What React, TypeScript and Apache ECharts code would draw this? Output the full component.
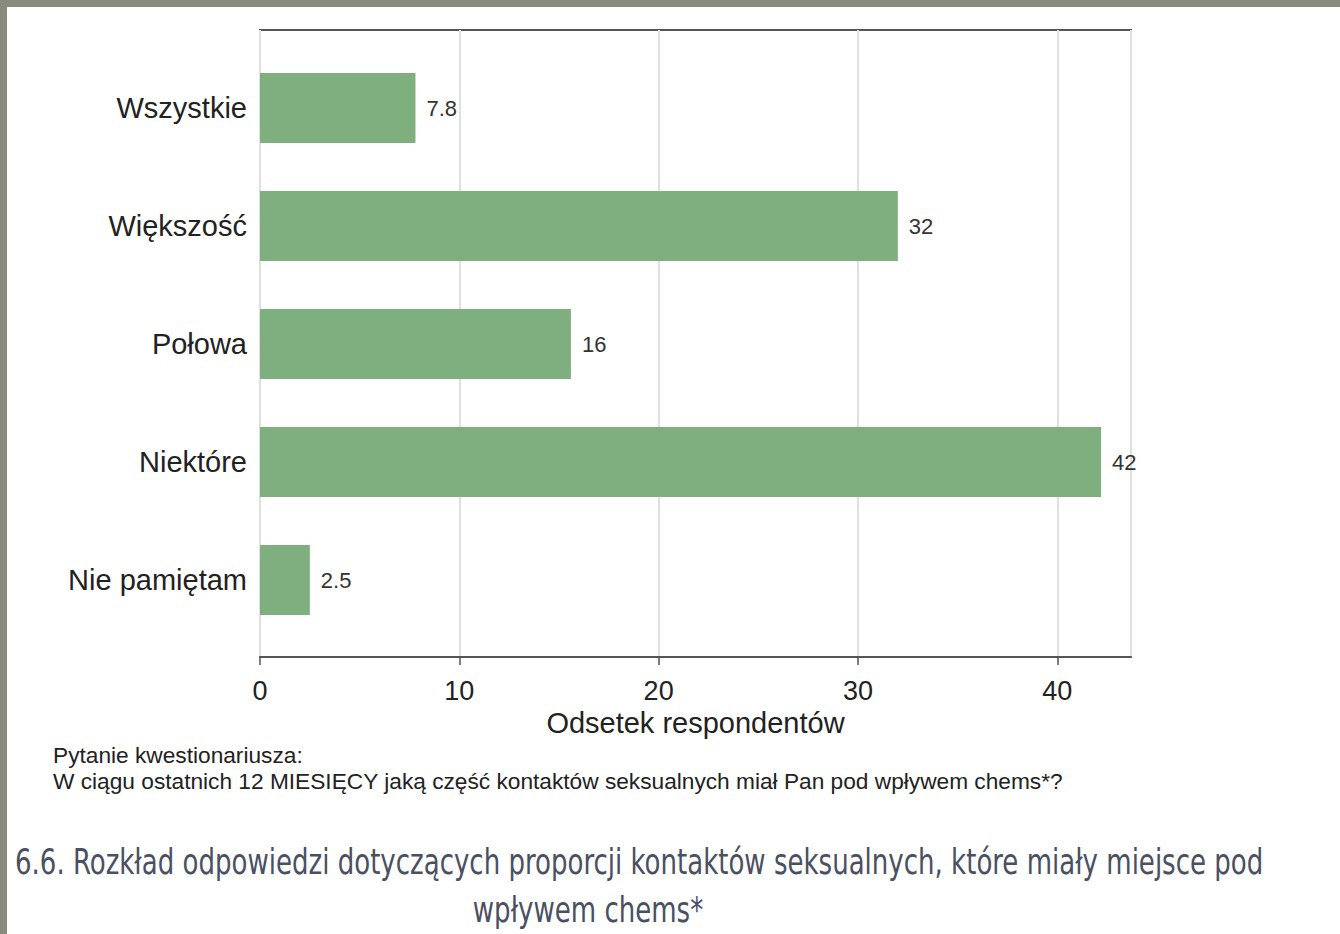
import React, { useEffect, useRef } from "react";
import * as echarts from "echarts";

const categories = ["Wszystkie", "Większość", "Połowa", "Niektóre", "Nie pamiętam"];
const values = [7.8, 32.0, 15.6, 42.2, 2.5];
const xTicks = [0, 10, 20, 30, 40];
const axisTitle = "Odsetek respondentów";
const noteLines = [
  "Pytanie kwestionariusza:",
  "W ciągu ostatnich 12 MIESIĘCY jaką część kontaktów seksualnych miał Pan pod wpływem chems*?",
];
const captionLines = [
  "6.6. Rozkład odpowiedzi dotyczących proporcji kontaktów seksualnych, które miały miejsce pod",
  "wpływem chems*",
];

const FONT = "'Liberation Sans', Arial, sans-serif";
const CAPTION_FONT = "'Liberation Sans Narrow', 'DejaVu Sans Condensed', 'Roboto', sans-serif";

export default function App() {
  const ref = useRef<HTMLDivElement>(null);
  useEffect(() => {
    if (!ref.current) return;
    const chart = echarts.init(ref.current, undefined, { renderer: "svg" });
    const xMax = 43.7;
    chart.setOption({
      animation: false,
      backgroundColor: "#ffffff",
      grid: [
        { left: 260, top: 30, width: 871, height: 627, show: true, borderColor: "#555", borderWidth: 2, backgroundColor: "transparent" },
        { left: 260, top: 49, width: 871, height: 590 },
      ],
      xAxis: [
        {
          type: "value",
          gridIndex: 0,
          min: 0,
          max: xMax,
          interval: 10,
          axisLine: { show: true, lineStyle: { color: "#555", width: 2 } },
          axisTick: { show: true, length: 8, lineStyle: { color: "#555", width: 1.5 } },
          axisLabel: {
            fontSize: 27,
            color: "#222",
            fontFamily: FONT,
            margin: 20,
            showMaxLabel: false,
            formatter: (v: number) => (xTicks.includes(v) ? String(v) : ""),
          },
          splitLine: { show: true, lineStyle: { color: "#e0e0e0", width: 2 } },
          name: axisTitle,
          nameLocation: "middle",
          nameGap: 48,
          nameTextStyle: { fontSize: 29, color: "#222", fontFamily: FONT },
        },
        { type: "value", gridIndex: 1, min: 0, max: xMax, show: false },
      ],
      yAxis: [
        { type: "value", gridIndex: 0, show: false },
        {
          type: "category",
          gridIndex: 1,
          inverse: true,
          data: categories,
          axisLine: { show: false },
          axisTick: { show: false },
          axisLabel: { fontSize: 29, color: "#222", fontFamily: FONT, margin: 13 },
        },
      ],
      series: [
        {
          type: "bar",
          xAxisIndex: 1,
          yAxisIndex: 1,
          data: values,
          barWidth: 70,
          itemStyle: { color: "#7fae7f" },
          label: {
            show: true,
            position: "right",
            distance: 11,
            fontSize: 22,
            color: "#333",
            fontFamily: FONT,
            formatter: (p: any) => Number(p.value).toPrecision(2),
          },
        },
      ],
      graphic: [
        { type: "rect", shape: { x: 0, y: 0, width: 1340, height: 7 }, style: { fill: "#888b7b" } },
        { type: "rect", shape: { x: 0, y: 0, width: 7, height: 934 }, style: { fill: "#888b7b" } },
        {
          type: "text",
          x: 53,
          y: 755,
          style: {
            text: noteLines[0],
            fontSize: 22.7,
            fill: "#222",
            fontFamily: FONT,
            textVerticalAlign: "middle",
          },
        },
        {
          type: "text",
          x: 53,
          y: 781,
          style: {
            text: noteLines[1],
            fontSize: 22.7,
            fill: "#222",
            fontFamily: FONT,
            textVerticalAlign: "middle",
          },
        },
        {
          type: "text",
          x: 15,
          y: 862,
          scaleX: 0.804,
          style: {
            text: captionLines[0],
            fontSize: 36,
            fill: "#4a5062",
            fontFamily: CAPTION_FONT,
            textVerticalAlign: "middle",
            textAlign: "left",
          },
        },
        {
          type: "text",
          x: 588,
          y: 910,
          scaleX: 0.804,
          style: {
            text: captionLines[1],
            fontSize: 36,
            fill: "#4a5062",
            fontFamily: CAPTION_FONT,
            textVerticalAlign: "middle",
            textAlign: "center",
          },
        },
      ],
    });
    return () => chart.dispose();
  }, []);
  return <div ref={ref} style={{ position: "absolute", left: 0, top: 0, width: 1340, height: 934 }} />;
}
